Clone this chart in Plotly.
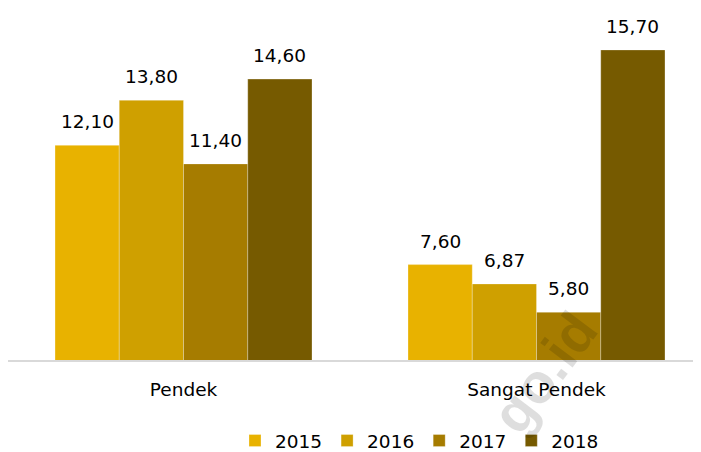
import plotly.graph_objects as go

categories = ["Pendek", "Sangat Pendek"]
series_names = ["2015", "2016", "2017", "2018"]
values_2015 = [12.10, 7.60]
values_2016 = [13.80, 6.87]
values_2017 = [11.40, 5.80]
values_2018 = [14.60, 15.70]
colors = ["#E8B200", "#CFA000", "#A67C00", "#765A00"]

FONT = "DejaVu Sans"
FS = 18.5

# layout constants
FIG_W, FIG_H = 693, 460
M_L, M_R, M_T, M_B = 0, 0, 34, 108
X_RANGE = [-0.4972, 1.4660]
BARGAP = 0.272
plot_w = FIG_W - M_L - M_R
plot_h = FIG_H - M_T - M_B
px_per_cat = plot_w / (X_RANGE[1] - X_RANGE[0])
bar_w = px_per_cat * (1 - BARGAP) / len(series_names)


def fmt(v):
    return f"{v:.2f}".replace(".", ",")


all_values = [values_2015, values_2016, values_2017, values_2018]

fig = go.Figure()
for name, vals, col in zip(series_names, all_values, colors):
    fig.add_trace(go.Bar(
        x=categories, y=vals, name=name,
        marker=dict(color=col, line=dict(width=0.8, color="rgba(255,255,255,0.35)")),
        cliponaxis=False,
    ))

# value labels above bars
n = len(series_names)
for i, vals in enumerate(all_values):
    for cat, v in zip(categories, vals):
        fig.add_annotation(
            x=cat, y=v, xref="x", yref="y", text=fmt(v), showarrow=False,
            xanchor="center", yanchor="bottom",
            xshift=(i - (n - 1) / 2) * bar_w, yshift=11,
            font=dict(family=FONT, size=FS, color="#000000"),
        )

# watermark
fig.add_annotation(
    text="<b>go.id</b>", xref="paper", yref="paper",
    x=536 / plot_w, y=-12 / plot_h, xanchor="center", yanchor="middle",
    showarrow=False, textangle=-53,
    font=dict(family="Liberation Sans", size=56, color="rgba(0,0,0,0.13)"),
)

fig.update_layout(
    width=FIG_W, height=FIG_H,
    margin=dict(l=M_L, r=M_R, t=M_T, b=M_B, autoexpand=False),
    paper_bgcolor="white", plot_bgcolor="white",
    barmode="group", bargap=BARGAP, bargroupgap=0,
    font=dict(family=FONT, size=FS, color="#000000"),
    xaxis=dict(
        range=X_RANGE, showline=True, linecolor="#D9D9D9", linewidth=1.5,
        ticks="", showgrid=False, zeroline=False, ticklabelstandoff=12,
        tickfont=dict(family=FONT, size=FS, color="#000000"),
    ),
    yaxis=dict(range=[4, 16], visible=False, showgrid=False, zeroline=False),
    showlegend=True,
    legend=dict(
        orientation="h", x=227 / plot_w, xanchor="left",
        y=-81 / plot_h, yanchor="middle",
        font=dict(family=FONT, size=FS, color="#000000"),
        traceorder="normal",
    ),
)

fig.write_html("out.html")
